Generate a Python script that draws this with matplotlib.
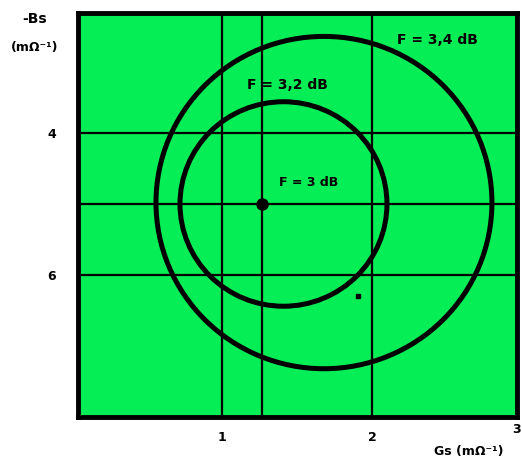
import matplotlib
matplotlib.use('Agg')
import matplotlib.pyplot as plt
from matplotlib.patches import Ellipse
from matplotlib import rcParams

rcParams['font.family'] = 'DejaVu Sans'
rcParams['font.weight'] = 'bold'
rcParams['font.size'] = 9

# noise circles in the source admittance plane (Gs, -Bs)
circle_labels = ['F = 3,2 dB', 'F = 3,4 dB']
circle_gs = [1.41, 1.68]
circle_bs = [5.0, 4.98]
circle_rg = [0.69, 1.12]
circle_rb = [1.44, 2.34]

# optimum point (minimum noise figure)
opt_label = 'F = 3 dB'
opt_gs = 1.267
opt_bs = 5.0

stray_gs = [1.91]
stray_bs = [6.3]

grid_gs = [1.0, 1.267, 2.0]
grid_bs = [4.0, 5.0, 6.0]

xticks = [1, 2]
yticks = [4, 6]

green = '#06ee55'

fig = plt.figure(figsize=(5.22, 4.62), dpi=100)
ax = fig.add_axes([0.1494, 0.0974, 0.841, 0.8745])
ax.set_facecolor(green)

ax.set_xlim(0.04, 2.967)
ax.set_ylim(8.0, 2.31)

for g in grid_gs:
    ax.axvline(g, color='black', lw=1.6, zorder=1)
for b in grid_bs:
    ax.axhline(b, color='black', lw=1.6, zorder=1)

for g, b, rg, rb in zip(circle_gs, circle_bs, circle_rg, circle_rb):
    ax.add_patch(Ellipse((g, b), 2 * rg, 2 * rb, fill=False,
                         edgecolor='black', lw=3.6, zorder=2))

ax.plot(opt_gs, opt_bs, 'o', color='black', ms=8, zorder=3)
ax.plot(stray_gs, stray_bs, 's', color='black', ms=3, zorder=3)

ax.text(1.38, 4.75, opt_label, fontsize=9, zorder=4)
ax.text(1.17, 3.38, circle_labels[0], fontsize=10, zorder=4)
ax.text(2.17, 2.75, circle_labels[1], fontsize=10, zorder=4)

ax.set_xticks(xticks)
ax.set_yticks(yticks)
ax.tick_params(axis='both', length=0, labelsize=9)
ax.tick_params(axis='x', pad=10)
ax.tick_params(axis='y', pad=16)
# last x tick sits on the right frame edge, slightly raised
ax.text(1.0, -0.015, '3', transform=ax.transAxes, fontsize=9,
        ha='center', va='top')

for s in ax.spines.values():
    s.set_linewidth(3.5)

fig.text(0.042, 0.959, '-Bs', fontsize=10, ha='left', va='center')
fig.text(0.067, 0.898, '(mΩ⁻¹)', fontsize=9, ha='center', va='center')
fig.text(0.965, 0.022, 'Gs (mΩ⁻¹)', fontsize=9, ha='right', va='center')

fig.savefig('out.png', dpi=100)
